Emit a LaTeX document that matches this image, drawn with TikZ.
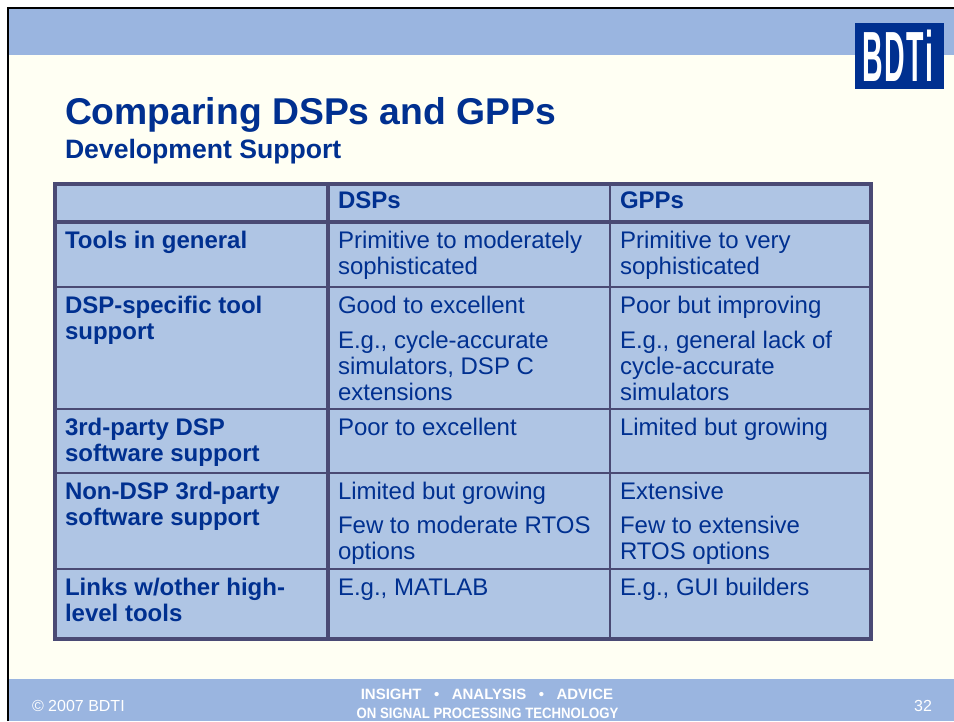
\documentclass[tikz,border=0pt]{standalone}
\usepackage{fontspec}
\setmainfont{Liberation Sans}
\definecolor{cream}{HTML}{FFFFF3}
\definecolor{band}{HTML}{9AB5E0}
\definecolor{cellfill}{HTML}{AFC5E4}
\definecolor{rule}{HTML}{4A4A74}
\definecolor{navy}{HTML}{003090}
\newcommand{\fsz}[1]{\fontsize{#1pt}{#1pt}\selectfont}
\tikzset{
  x=1pt,y=-1pt,
  txt/.style={anchor=base west,inner sep=0pt,outer sep=0pt,text=navy},
  head/.style={txt,font=\fsz{24}\bfseries},
  body/.style={txt,font=\fsz{24}},
  thick rule/.style={draw=rule,line width=3.2pt,line cap=rect},
  thin rule/.style={draw=rule,line width=1.4pt},
  foot/.style={anchor=base,inner sep=0pt,outer sep=0pt,text=white},
}
\begin{document}
\begin{tikzpicture}
\useasboundingbox (0,0) rectangle (954,721);
\fill[white] (0,0) rectangle (954,721);
\fill[cream] (9,9) rectangle (954,721);
\fill[band] (9,9) rectangle (954,54.5);
\fill[band] (9,679) rectangle (954,721);
\draw[black,line width=2.4pt] (8,721) -- (8,8) -- (954,8);
% logo
\fill[navy] (855,23) rectangle (944,89);
\node[anchor=center,inner sep=0pt,text=white,font=\fsz{38}\bfseries,xscale=.75,yscale=1.87] (logo) at (897.5,55.5) {B\kern3ptD\kern1ptT\kern2pti};
% title
\node[txt,font=\fsz{37.3}\bfseries] (title) at (65,124) {Comparing DSPs and GPPs};
\node[txt,font=\fsz{26.6}\bfseries] (subtitle) at (65,158) {Development Support};
% table
\fill[cellfill] (55,184) rectangle (871,639);
\foreach \y in {287,409,473,569} \draw[thin rule] (55,\y) -- (871,\y);
\draw[thin rule] (610,184) -- (610,639);
\draw[thick rule] (55,184) rectangle (871,639);
\draw[thick rule] (55,222) -- (871,222);
\draw[thick rule] (328,184) -- (328,639);
% header
\node[head] (h1) at (338,208.5) {DSPs};
\node[head] (h2) at (620,208.5) {GPPs};
% row 1
\node[head] (a1) at (65,248.5) {Tools in general};
\node[body] (b1) at (338,248.5) {Primitive to moderately};
\node[body] (b1b) at (338,274.5) {sophisticated};
\node[body] (c1) at (620,248.5) {Primitive to very};
\node[body] (c1b) at (620,274.5) {sophisticated};
% row 2
\node[head] (a2) at (65,313.5) {DSP-specific tool};
\node[head] (a2b) at (65,339.5) {support};
\node[body] (b2) at (338,313.5) {Good to excellent};
\node[body] (b2b) at (338,348.5) {E.g., cycle-accurate};
\node[body] (b2c) at (338,374.5) {simulators, DSP C};
\node[body] (b2d) at (338,400.5) {extensions};
\node[body] (c2) at (620,313.5) {Poor but improving};
\node[body] (c2b) at (620,348.5) {E.g., general lack of};
\node[body] (c2c) at (620,374.5) {cycle-accurate};
\node[body] (c2d) at (620,400.5) {simulators};
% row 3
\node[head] (a3) at (65,435.5) {3rd-party DSP};
\node[head] (a3b) at (65,461.5) {software support};
\node[body] (b3) at (338,435.5) {Poor to excellent};
\node[body] (c3) at (620,435.5) {Limited but growing};
% row 4
\node[head] (a4) at (65,499.5) {Non-DSP 3rd-party};
\node[head] (a4b) at (65,525.5) {software support};
\node[body] (b4) at (338,499.5) {Limited but growing};
\node[body] (b4b) at (338,533.5) {Few to moderate RTOS};
\node[body] (b4c) at (338,559.5) {options};
\node[body] (c4) at (620,499.5) {Extensive};
\node[body] (c4b) at (620,533.5) {Few to extensive};
\node[body] (c4c) at (620,559.5) {RTOS options};
% row 5
\node[head] (a5) at (65,595.5) {Links w/other high-};
\node[head] (a5b) at (65,621.5) {level tools};
\node[body] (b5) at (338,595.5) {E.g., MATLAB};
\node[body] (c5) at (620,595.5) {E.g., GUI builders};
% footer
\node[foot,anchor=base west,font=\fsz{16}] (copy) at (32,711) {© 2007 BDTI};
\node[foot,font=\fsz{15}\bfseries] (ins) at (487,699.5) {INSIGHT\ \ \ •\ \ \ ANALYSIS\ \ \ •\ \ \ ADVICE};
\node[foot,font=\fsz{15}\bfseries,xscale=.88] (sig) at (487.5,718.5) {ON SIGNAL PROCESSING TECHNOLOGY};
\node[foot,anchor=base east,font=\fsz{16}] (pg) at (932,711) {32};
\end{tikzpicture}
\end{document}
